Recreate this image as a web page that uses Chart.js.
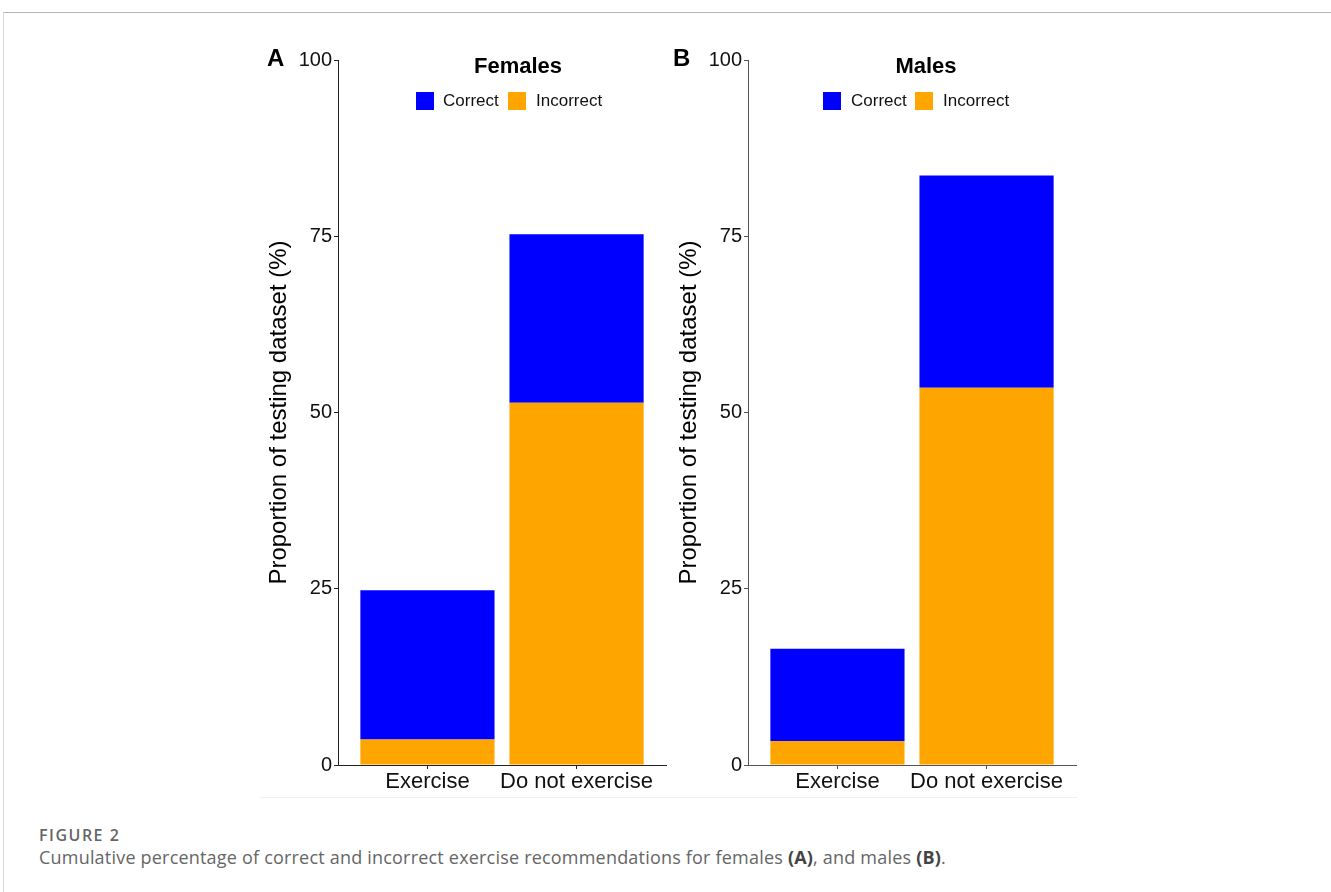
<!DOCTYPE html>
<html>
<head>
<meta charset="utf-8">
<title>Figure 2</title>
<script src="https://cdn.jsdelivr.net/npm/chart.js@4.4.0/dist/chart.umd.min.js"></script>
<style>
body { margin: 0; width: 1331px; height: 892px; background: #fff; position: relative; overflow: hidden;
       font-family: "Liberation Sans", Arial, sans-serif; }
.abs { position: absolute; white-space: nowrap; }
.frame-top { left: 3px; top: 12px; width: 1328px; height: 0; border-top: 1px solid #b5b5b5; }
.frame-left { left: 3px; top: 12px; width: 0; height: 880px; border-left: 1px solid #d8d8d8; }
.img-edge { left: 260px; top: 797px; width: 818px; height: 0; border-top: 1px solid #f0f0f0; }
canvas { position: absolute; }
.letter { font-size: 24px; font-weight: bold; line-height: 24px; color: #000; }
.ptitle { font-size: 22px; font-weight: bold; line-height: 22px; width: 200px; text-align: center; color: #000; }
.swatch { width: 18px; height: 18px; }
.ltext { font-size: 17px; line-height: 17px; color: #111; }
.fig { font-family: "Open Sans", sans-serif; color: #666; font-size: 16px; font-weight: 600; line-height: 16px; letter-spacing: 1.5px; }
.cap { font-family: "Open Sans", sans-serif; color: #666; font-size: 18px; line-height: 18px; letter-spacing: 0.2px; }
.cap b { color: #444; }
</style>
</head>
<body>
<div class="abs frame-top"></div>
<div class="abs frame-left"></div>
<div class="abs img-edge"></div>

<canvas id="chartA" width="415" height="770" style="left:255px; top:40px;"></canvas>
<canvas id="chartB" width="415" height="770" style="left:665px; top:40px;"></canvas>

<div class="abs letter" style="left:267px; top:46px;">A</div>
<div class="abs letter" style="left:673px; top:46px;">B</div>

<div class="abs ptitle" style="left:418px; top:55px;">Females</div>
<div class="abs ptitle" style="left:826px; top:55px;">Males</div>

<div class="abs swatch" style="left:416px; top:92px; background:#0000FF;"></div>
<div class="abs ltext" style="left:443px; top:92px;">Correct</div>
<div class="abs swatch" style="left:508px; top:92px; background:#FFA500;"></div>
<div class="abs ltext" style="left:536px; top:92px;">Incorrect</div>

<div class="abs swatch" style="left:823px; top:92px; background:#0000FF;"></div>
<div class="abs ltext" style="left:851px; top:92px;">Correct</div>
<div class="abs swatch" style="left:915px; top:92px; background:#FFA500;"></div>
<div class="abs ltext" style="left:943px; top:92px;">Incorrect</div>

<div class="abs fig" style="left:39px; top:827px;">FIGURE 2</div>
<div class="abs cap" style="left:39px; top:848px;">Cumulative percentage of correct and incorrect exercise recommendations for females <b>(A)</b>, and males <b>(B)</b>.</div>

<script>
// values (percent of testing dataset)
const categories = ['Exercise', 'Do not exercise'];
const femaleIncorrect = [3.6, 51.4];
const femaleCorrect = [21.2, 23.9];
const maleIncorrect = [3.4, 53.5];
const maleCorrect = [13.1, 30.1];
const yTicks = [0, 25, 50, 75, 100];

const fontFamily = '"Liberation Sans", Arial, sans-serif';

function toPoints(values) {
    return values.map((v, i) => ({ x: i + 1, y: v }));
}

function makePanel(canvasId, incorrect, correct, axisColor) {
    const ctx = document.getElementById(canvasId).getContext('2d');
    return new Chart(ctx, {
        type: 'bar',
        data: {
            datasets: [
                { label: 'Incorrect', data: toPoints(incorrect), backgroundColor: '#FFA500', borderWidth: 0 },
                { label: 'Correct', data: toPoints(correct), backgroundColor: '#0000FF', borderWidth: 0 }
            ]
        },
        options: {
            responsive: false,
            animation: false,
            devicePixelRatio: 1,
            layout: { padding: { top: 20, right: 4, left: 0, bottom: 0 } },
            datasets: { bar: { categoryPercentage: 1, barPercentage: 0.9 } },
            plugins: { legend: { display: false }, tooltip: { enabled: false } },
            scales: {
                x: {
                    type: 'linear',
                    min: 0.4,
                    max: 2.6,
                    offset: false,
                    stacked: true,
                    afterBuildTicks: scale => {
                        scale.ticks = categories.map((c, i) => ({ value: i + 1 }));
                    },
                    afterFit: scale => { scale.height = 45; },
                    ticks: {
                        callback: v => categories[v - 1],
                        font: { size: 22, family: fontFamily },
                        color: '#111',
                        padding: 0,
                        maxRotation: 0,
                        autoSkip: false
                    },
                    grid: { display: true, offset: false, drawOnChartArea: false, tickLength: 4, color: axisColor },
                    border: { display: true, color: axisColor, width: 1 }
                },
                y: {
                    min: 0,
                    max: 100,
                    stacked: true,
                    afterBuildTicks: scale => {
                        scale.ticks = yTicks.map(v => ({ value: v }));
                    },
                    afterFit: scale => { scale.width = 83; },
                    ticks: {
                        font: { size: 20, family: fontFamily },
                        color: '#111',
                        padding: 2
                    },
                    grid: { display: true, drawOnChartArea: false, tickLength: 4, color: axisColor },
                    border: { display: true, color: axisColor, width: 1 },
                    title: {
                        display: true,
                        text: 'Proportion of testing dataset (%)',
                        font: { size: 24, family: fontFamily, lineHeight: 1.2 },
                        color: '#000',
                        padding: { top: 10, bottom: 0 }
                    }
                }
            }
        }
    });
}

makePanel('chartA', femaleIncorrect, femaleCorrect, '#222');
makePanel('chartB', maleIncorrect, maleCorrect, '#555');
</script>
</body>
</html>
